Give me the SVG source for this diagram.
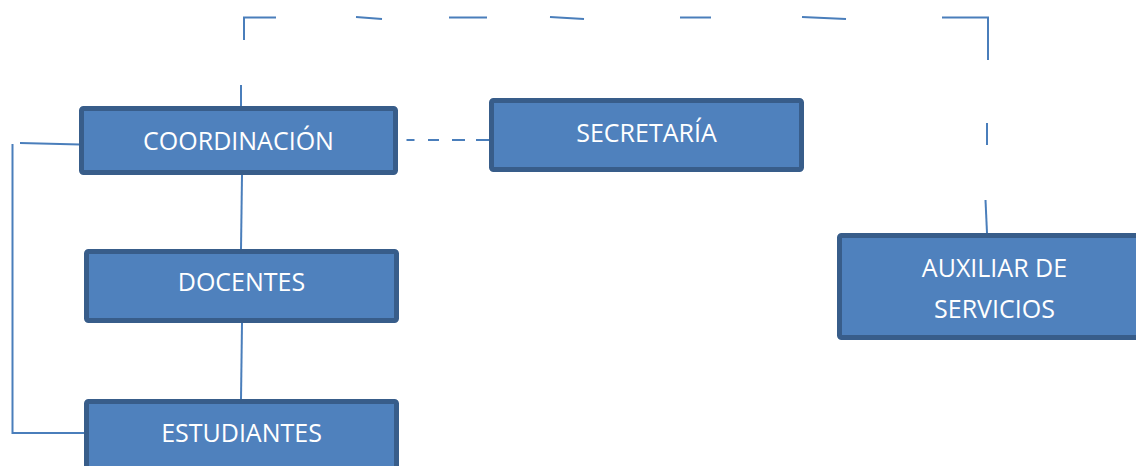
<svg xmlns="http://www.w3.org/2000/svg" width="1136" height="466" viewBox="0 0 1136 466">
<style>
.box{fill:#4F81BD;stroke:#385D8A;stroke-width:5}
.lbl{fill:#FFFFFF;font-family:"Open Sans","Noto Sans","Liberation Sans",sans-serif;font-size:25px;text-anchor:middle}
.ln{fill:none;stroke:#4A7EBB;stroke-width:2;stroke-linecap:butt}
</style>
<rect width="1136" height="466" fill="#FFFFFF"/>
<g id="connectors">
<path class="ln" d="M244 40 V17.5 H276"/>
<path class="ln" d="M356 17 L382 19"/>
<path class="ln" d="M449 17.5 H487"/>
<path class="ln" d="M550 17 L584 19"/>
<path class="ln" d="M680 17.5 H711"/>
<path class="ln" d="M802 17 L846 19"/>
<path class="ln" d="M942 17.5 H988 V60"/>
<path class="ln" d="M987 123 V145"/>
<path class="ln" d="M985.5 200 L987 233"/>
<path class="ln" d="M241 85 V106"/>
<path class="ln" d="M242 175 L241 249"/>
<path class="ln" d="M242 323 L241 399"/>
<path class="ln" d="M20 143 L80 144.5"/>
<path class="ln" d="M12.5 144 V433 H84"/>
<path class="ln" d="M406.5 140 H414.5 M428 140 H439 M452 140 H465 M476 140 H490"/>
</g>
<g id="coordinacion">
<rect class="box" x="81.5" y="108.5" width="314" height="64" rx="2"/>
<text class="lbl" x="238.5" y="149.5">COORDINACIÓN</text>
</g>
<g id="secretaria">
<rect class="box" x="491.5" y="100.5" width="310" height="69" rx="2"/>
<text class="lbl" x="646.5" y="141.7">SECRETARÍA</text>
</g>
<g id="docentes">
<rect class="box" x="86.5" y="251.5" width="310" height="69" rx="2"/>
<text class="lbl" x="241.5" y="290.7">DOCENTES</text>
</g>
<g id="estudiantes">
<rect class="box" x="86.5" y="401.5" width="310" height="69" rx="2"/>
<text class="lbl" x="241.5" y="442">ESTUDIANTES</text>
</g>
<g id="auxiliar">
<rect class="box" x="839.5" y="235.5" width="312" height="102" rx="2"/>
<text class="lbl" x="994.5" y="277">AUXILIAR DE</text>
<text class="lbl" x="994.5" y="318.3">SERVICIOS</text>
</g>
</svg>
